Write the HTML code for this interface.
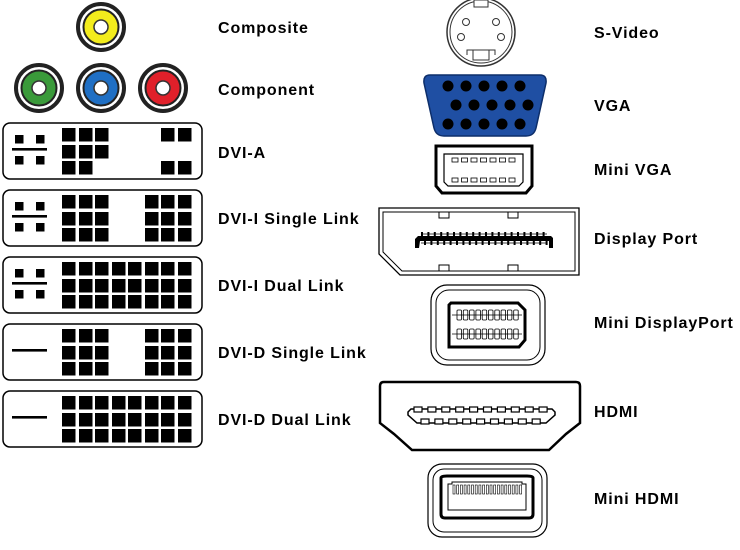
<!DOCTYPE html>
<html><head><meta charset="utf-8"><style>
html,body{margin:0;padding:0;background:#fff;width:740px;height:550px;overflow:hidden}
svg{display:block}
text{font-family:"Liberation Sans",Arial,sans-serif;font-weight:bold;font-size:16px;letter-spacing:0.9px;fill:#000}
</style></head><body>
<svg id="s" width="740" height="550" viewBox="0 0 740 550" xmlns="http://www.w3.org/2000/svg">
<g id="rca"></g>
<g id="dvi"></g>
<circle cx="481" cy="32" r="34" fill="#fff" stroke="#333" stroke-width="1.5"/>
<circle cx="481" cy="32" r="31" fill="#fff" stroke="#333" stroke-width="1"/>
<rect x="474" y="0" width="14" height="7" fill="#fff" stroke="#333"/>
<circle cx="466" cy="22" r="3.5" fill="#fff" stroke="#333"/>
<circle cx="496" cy="22" r="3.5" fill="#fff" stroke="#333"/>
<circle cx="461" cy="37" r="3.5" fill="#fff" stroke="#333"/>
<circle cx="501" cy="37" r="3.5" fill="#fff" stroke="#333"/>
<path d="M467 55 L467 50 L495 50 L495 55" fill="none" stroke="#333"/>
<rect x="473" y="50" width="16" height="10" fill="#fff" stroke="#333"/>
<path d="M430 75 L540 75 Q547 75 546 83 L536 128 Q534 136 526 136 L444 136 Q436 136 434 128 L424 83 Q423 75 430 75 Z" fill="#1f4fa3" stroke="#0d2e6a" stroke-width="1.5"/>
<g id="vga"></g>
<path d="M436 146 L532 146 L532 186 L526 193 L442 193 L436 186 Z" fill="#fff" stroke="#000" stroke-width="3"/>
<path d="M444 154 L523 154 L523 182 L519 186 L448 186 L444 182 Z" fill="#fff" stroke="#000" stroke-width="1.2"/>
<g id="mvga"></g>
<path d="M379 208 L579 208 L579 275 L400 275 L379 254 Z" fill="#fff" stroke="#000" stroke-width="1.3"/>
<path d="M383 212 L575 212 L575 271 L402 271 L383 252 Z" fill="none" stroke="#000" stroke-width="1"/>
<rect x="439" y="212" width="10" height="6" fill="#fff" stroke="#000"/>
<rect x="508" y="212" width="10" height="6" fill="#fff" stroke="#000"/>
<rect x="439" y="265" width="10" height="6" fill="#fff" stroke="#000"/>
<rect x="508" y="265" width="10" height="6" fill="#fff" stroke="#000"/>
<path d="M415 248 L415 239 L418 236 L551 236 L553 238 L553 248 L549 248 L549 241 L420 241 L419 248 Z" fill="#000"/>
<g id="dp"></g>
<rect x="431" y="285" width="114" height="80" rx="16" fill="#fff" stroke="#000" stroke-width="1.2"/>
<rect x="436" y="290" width="104" height="70" rx="13" fill="none" stroke="#000" stroke-width="1"/>
<path d="M451 303 L518 303 L525 310 L525 340 L519 347 L450 347 L449 347 L449 305 Z" fill="#fff" stroke="#000" stroke-width="3"/>
<g id="mdp"></g>
<path d="M384 382 L576 382 Q580 382 580 386 L580 423 L566 434 L549 450 L412 450 L394 434 L380 423 L380 386 Q380 382 384 382 Z" fill="#fff" stroke="#000" stroke-width="2.5"/>
<path d="M408 412 L411 409 L552 409 L555 412 L555 415 L546 423 L417 423 L408 415 Z" fill="#fff" stroke="#000" stroke-width="1.5"/>
<g id="hdmi"></g>
<rect x="428" y="464" width="119" height="73" rx="14" fill="#fff" stroke="#000" stroke-width="1.2"/>
<rect x="433" y="469" width="109" height="63" rx="11" fill="none" stroke="#000" stroke-width="1"/>
<path d="M441 478 Q441 476 447 476 L527 476 Q533 476 533 478 L533 514 Q533 518 529 518 L445 518 Q441 518 441 514 Z" fill="#fff" stroke="#000" stroke-width="3"/>
<path d="M448 492 L448 484 L452 484 L452 482 L522 482 L522 484 L526 484 L526 492 L526 510 L448 510 Z" fill="#fff" stroke="#000" stroke-width="1"/>
<g id="mh"></g>
<text x="218" y="33">Composite</text>
<text x="218" y="95">Component</text>
<text x="218" y="158">DVI-A</text>
<text x="218" y="224">DVI-I Single Link</text>
<text x="218" y="291">DVI-I Dual Link</text>
<text x="218" y="358">DVI-D Single Link</text>
<text x="218" y="425">DVI-D Dual Link</text>
<text x="594" y="38">S-Video</text>
<text x="594" y="111">VGA</text>
<text x="594" y="175">Mini VGA</text>
<text x="594" y="244">Display Port</text>
<text x="594" y="328">Mini DisplayPort</text>
<text x="594" y="417">HDMI</text>
<text x="594" y="504">Mini HDMI</text>
</svg>
<script>
var NS="http://www.w3.org/2000/svg";
function el(p,t,a){var e=document.createElementNS(NS,t);for(var k in a)e.setAttribute(k,a[k]);document.getElementById(p).appendChild(e);return e;}
function rca(cx,cy,c){el("rca","circle",{cx:cx,cy:cy,r:23,fill:"#fff",stroke:"#222","stroke-width":4});
el("rca","circle",{cx:cx,cy:cy,r:17.5,fill:c,stroke:"#222","stroke-width":2});
el("rca","circle",{cx:cx,cy:cy,r:7,fill:"#fff",stroke:"#333","stroke-width":1.5});}
rca(101,27,"#f3ec1c");rca(39,88,"#3a9a3a");rca(101,88,"#1f6fc4");rca(163,88,"#e0202a");
var cols=[62,79,95,112,128,145,161,178],rows=[5,22,38];
function dvi(y,pat,analog){
 el("dvi","rect",{x:3,y:y,width:199,height:56,rx:7,fill:"#fff",stroke:"#000","stroke-width":1.5});
 for(var r=0;r<3;r++)for(var c=0;c<8;c++)if(pat[r][c]=="1")el("dvi","rect",{x:cols[c],y:y+rows[r],width:13.5,height:13.5,fill:"#000"});
 el("dvi","rect",{x:12,y:y+25,width:35,height:2.6,fill:"#000"});
 if(analog){[[15,y+12],[36,y+12],[15,y+33],[36,y+33]].forEach(function(p){el("dvi","rect",{x:p[0],y:p[1],width:8.5,height:8.5,fill:"#000"});});}
}
dvi(123,["11100011","11100000","11000011"],1);
dvi(190,["11100111","11100111","11100111"],1);
dvi(257,["11111111","11111111","11111111"],1);
dvi(324,["11100111","11100111","11100111"],0);
dvi(391,["11111111","11111111","11111111"],0);
for(var i=0;i<5;i++){el("vga","circle",{cx:448+i*18,cy:86,r:5.5,fill:"#000"});el("vga","circle",{cx:448+i*18,cy:124,r:5.5,fill:"#000"});}
for(var i=0;i<5;i++)el("vga","circle",{cx:456+i*18,cy:105,r:5.5,fill:"#000"});
for(var i=0;i<7;i++){el("mvga","rect",{x:452+i*9.5,y:158,width:6,height:4,fill:"#fff",stroke:"#000","stroke-width":0.8});el("mvga","rect",{x:452+i*9.5,y:178,width:6,height:4,fill:"#fff",stroke:"#000","stroke-width":0.8});}
for(var i=0;i<20;i++){el("dp","rect",{x:421+i*6.4,y:232,width:2,height:4,fill:"#000"});el("dp","rect",{x:424+i*6.4,y:241,width:2,height:4,fill:"#000"});}
el("dp","line",{x1:421,y1:234,x2:547,y2:234,stroke:"#000","stroke-width":0.8});
el("dp","line",{x1:421,y1:243,x2:547,y2:243,stroke:"#000","stroke-width":0.8});
for(var i=0;i<10;i++){el("mdp","rect",{x:457+i*6.3,y:310,width:4.5,height:10,rx:1,fill:"#fff",stroke:"#000","stroke-width":0.8});el("mdp","rect",{x:457+i*6.3,y:329,width:4.5,height:10,rx:1,fill:"#fff",stroke:"#000","stroke-width":0.8});}
el("mdp","line",{x1:452,y1:315,x2:522,y2:315,stroke:"#000","stroke-width":0.8});
el("mdp","line",{x1:452,y1:334,x2:522,y2:334,stroke:"#000","stroke-width":0.8});
for(var i=0;i<10;i++)el("hdmi","rect",{x:414+i*13.9,y:407,width:8,height:5,fill:"#fff",stroke:"#000","stroke-width":1.2});
for(var i=0;i<9;i++)el("hdmi","rect",{x:421+i*13.9,y:419,width:8,height:5,fill:"#fff",stroke:"#000","stroke-width":1.2});
for(var i=0;i<19;i++)el("mh","rect",{x:453+i*3.7,y:485,width:2,height:9,fill:"#fff",stroke:"#000","stroke-width":0.6});
</script>
</body></html>
